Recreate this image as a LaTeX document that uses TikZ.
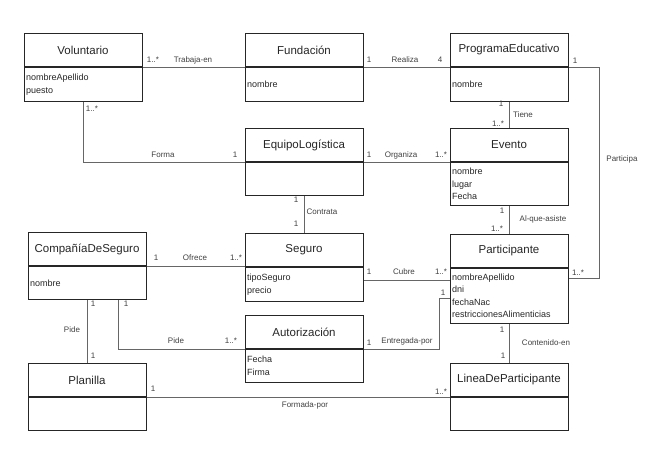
\documentclass[tikz,border=0pt]{standalone}
\usepackage{fontspec}
\setmainfont{Liberation Sans}
\usetikzlibrary{calc}
\begin{document}
\begin{tikzpicture}[x=1pt,y=-1pt,
  ctitle/.style={draw=black!85, line width=1pt, rectangle, minimum width=118pt, minimum height=33pt, inner sep=0pt, anchor=north, text=black!85, font=\fontsize{11.5}{13}\selectfont},
  cattr/.style={draw=black!85, line width=1pt, rectangle, minimum width=118pt, inner sep=0pt, anchor=north, text width=114pt, align=left, text=black!85, font=\fontsize{9}{12.5}\selectfont},
  conn/.style={draw=black!60, line width=0.8pt},
  lbl/.style={font=\fontsize{8}{9}\selectfont, text=black!75, inner sep=0pt}]
\useasboundingbox (0,0) rectangle (655,452);
% classes
\node[ctitle] (vol) at (83,33) {Voluntario};
\node[cattr, minimum height=34pt] (vola) at (vol.south) {nombreApellido\\puesto};
\node[ctitle] (fun) at (304,33) {Fundación};
\node[cattr, minimum height=34pt] (funa) at (fun.south) {nombre};
\node[ctitle] (prog) at (509,33) {ProgramaEducativo};
\node[cattr, minimum height=34pt] (proga) at (prog.south) {nombre};
\node[ctitle] (equ) at (304,128) {EquipoLogística};
\node[cattr, minimum height=33pt] (equa) at (equ.south) {};
\node[ctitle] (eve) at (509,128) {Evento};
\node[cattr, minimum height=43pt] (evea) at (eve.south) {nombre\\lugar\\Fecha};
\node[ctitle] (comp) at (87,232) {CompañíaDeSeguro};
\node[cattr, minimum height=33pt] (compa) at (comp.south) {nombre};
\node[ctitle] (seg) at (304,233) {Seguro};
\node[cattr, minimum height=34pt] (sega) at (seg.south) {tipoSeguro\\precio};
\node[ctitle] (par) at (509,234) {Participante};
\node[cattr, minimum height=55pt] (para) at (par.south) {nombreApellido\\dni\\fechaNac\\restriccionesAlimenticias};
\node[ctitle] (aut) at (304,315) {Autorización};
\node[cattr, minimum height=33pt] (auta) at (aut.south) {Fecha\\Firma};
\node[ctitle] (pla) at (87,363) {Planilla};
\node[cattr, minimum height=33pt] (plaa) at (pla.south) {};
\node[ctitle] (lin) at (509,363) {LineaDeParticipante};
\node[cattr, minimum height=33pt] (lina) at (lin.south) {};
% connectors
\draw[conn] (vol.south east) -- (fun.south west);
\draw[conn] (fun.south east) -- (prog.south west);
\draw[conn] (prog.south east) -- ++(31,0) |- ([yshift=-10pt]para.north east);
\draw[conn] (vola.south) |- (equ.south west);
\draw[conn] (equ.south east) -- (eve.south west);
\draw[conn] (proga.south) -- (eve.north);
\draw[conn] (equa.south) -- (seg.north);
\draw[conn] (comp.south east) -- (comp.south east -| seg.west);
\draw[conn] (evea.south) -- (par.north);
\coordinate (cub) at ([yshift=-13pt]sega.north east);
\draw[conn] (cub) -- (cub -| para.west);
\draw[conn] (aut.south east) -- ++(76,0) |- ([yshift=-30pt]para.north west);
\draw[conn] (compa.south) -- (pla.north);
\draw[conn] ([xshift=31pt]compa.south) |- (aut.south west);
\draw[conn] (pla.south east) -- (lin.south west);
\draw[conn] (para.south) -- (lin.north);
% labels
\node[lbl] (l1) at (153,60) {1..*};
\node[lbl] (l2) at (193,60) {Trabaja-en};
\node[lbl] (l3) at (369,60) {1};
\node[lbl] (l4) at (405,60) {Realiza};
\node[lbl] (l5) at (440,60) {4};
\node[lbl] (l6) at (575,61) {1};
\node[lbl] (l7) at (622,159) {Participa};
\node[lbl] (l8) at (501,104) {1};
\node[lbl] (l9) at (523,115) {Tiene};
\node[lbl] (l10) at (498,124) {1..*};
\node[lbl] (l11) at (92,109) {1..*};
\node[lbl] (l12) at (163,155) {Forma};
\node[lbl] (l13) at (235,155) {1};
\node[lbl] (l14) at (369,155) {1};
\node[lbl] (l15) at (401,155) {Organiza};
\node[lbl] (l16) at (441,155) {1..*};
\node[lbl] (l17) at (296,200) {1};
\node[lbl] (l18) at (322,212) {Contrata};
\node[lbl] (l19) at (296,224) {1};
\node[lbl] (l20) at (156,258) {1};
\node[lbl] (l21) at (195,258) {Ofrece};
\node[lbl] (l22) at (236,258) {1..*};
\node[lbl] (l23) at (502,211) {1};
\node[lbl] (l24) at (543,219) {Al-que-asiste};
\node[lbl] (l25) at (497,229) {1..*};
\node[lbl] (l26) at (369,272) {1};
\node[lbl] (l27) at (404,272) {Cubre};
\node[lbl] (l28) at (441,272) {1..*};
\node[lbl] (l29) at (578,273) {1..*};
\node[lbl] (l30) at (93,304) {1};
\node[lbl] (l31) at (72,330) {Pide};
\node[lbl] (l32) at (93,356) {1};
\node[lbl] (l33) at (126,304) {1};
\node[lbl] (l34) at (176,341) {Pide};
\node[lbl] (l35) at (231,341) {1..*};
\node[lbl] (l36) at (369,343) {1};
\node[lbl] (l37) at (407,341) {Entregada-por};
\node[lbl] (l38) at (443,293) {1};
\node[lbl] (l39) at (153,389) {1};
\node[lbl] (l40) at (305,405) {Formada-por};
\node[lbl] (l41) at (441,392) {1..*};
\node[lbl] (l42) at (502,330) {1};
\node[lbl] (l43) at (546,343) {Contenido-en};
\node[lbl] (l44) at (503,356) {1};
\end{tikzpicture}
\end{document}
